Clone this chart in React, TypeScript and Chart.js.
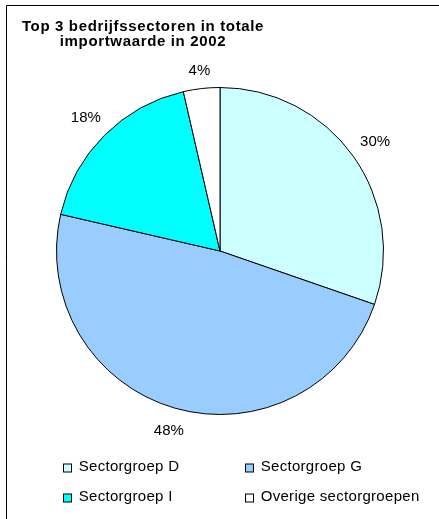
import React, { useEffect, useRef } from "react";
import { Chart, registerables } from "chart.js";

Chart.register(...registerables);

const categories = ["Sectorgroep D", "Sectorgroep G", "Sectorgroep I", "Overige sectorgroepen"];
const shares = [30.3, 48.3, 17.8, 3.6];
const sliceColors = ["#CCFFFF", "#99CCFF", "#00FFFF", "#FFFFFF"];
const titleLines = ["Top 3 bedrijfssectoren in totale", "importwaarde in 2002"];

const FONT = "'Liberation Sans', Arial, sans-serif";

const decorPlugin = {
  id: "decor",
  afterDraw(chart: any) {
    const ctx: CanvasRenderingContext2D = chart.ctx;
    ctx.save();
    // frame
    ctx.strokeStyle = "#000";
    ctx.lineWidth = 1;
    ctx.beginPath();
    ctx.moveTo(6.5, 519);
    ctx.lineTo(6.5, 5.5);
    ctx.lineTo(439, 5.5);
    ctx.stroke();

    // title
    ctx.fillStyle = "#000";
    ctx.font = `bold 15px ${FONT}`;
    (ctx as any).letterSpacing = "0.65px";
    ctx.textAlign = "center";
    ctx.textBaseline = "alphabetic";
    titleLines.forEach((line, i) => ctx.fillText(line, 143, 31 + i * 15));

    // percentage labels
    (ctx as any).letterSpacing = "0px";
    ctx.font = `15px ${FONT}`;
    ctx.textBaseline = "middle";
    const meta = chart.getDatasetMeta(0);
    meta.data.forEach((arc: any, i: number) => {
      const p = arc.getProps(["x", "y", "startAngle", "endAngle", "outerRadius"], true);
      const mid = (p.startAngle + p.endAngle) / 2;
      const text = Math.round(shares[i]) + "%";
      const w = ctx.measureText(text).width;
      const h = 16;
      const c = Math.cos(mid);
      const s = Math.sin(mid);
      const d = p.outerRadius + 10 + (w / 2) * Math.abs(c) + (h / 2) * Math.abs(s);
      ctx.fillText(text, p.x + c * d, p.y + s * d + 1.5);
    });

    // legend
    ctx.textAlign = "left";
    ctx.textBaseline = "alphabetic";
    (ctx as any).letterSpacing = "0.3px";
    const cols = [63.5, 245.5];
    const rows = [471, 501];
    categories.forEach((name, i) => {
      const bx = cols[i % 2];
      const by = rows[Math.floor(i / 2)];
      ctx.fillStyle = sliceColors[i];
      ctx.fillRect(bx, by - 7, 8, 8);
      ctx.strokeStyle = "#000";
      ctx.lineWidth = 1;
      ctx.strokeRect(bx, by - 7, 8, 8);
      ctx.fillStyle = "#000";
      ctx.fillText(name, bx + 15.2, by);
    });
    ctx.restore();
  },
};

export default function App() {
  const ref = useRef<HTMLCanvasElement | null>(null);
  useEffect(() => {
    if (!ref.current) return;
    const chart = new Chart(ref.current, {
      type: "pie",
      data: {
        labels: categories,
        datasets: [
          {
            data: shares,
            backgroundColor: sliceColors,
            borderColor: "#000",
            borderWidth: 1,
            hoverOffset: 0,
            hoverBorderWidth: 1,
          },
        ],
      },
      options: {
        responsive: false,
        animation: false,
        events: [],
        layout: { padding: { left: 56, right: 55, top: 87, bottom: 104 } },
        plugins: {
          legend: { display: false },
          title: { display: false },
          tooltip: { enabled: false },
        },
      },
      plugins: [decorPlugin],
    });
    return () => chart.destroy();
  }, []);
  return (
    <div style={{ position: "absolute", left: 0, top: 0, width: 439, height: 519, background: "#fff" }}>
      <canvas ref={ref} width={439} height={519} style={{ display: "block" }} />
    </div>
  );
}
